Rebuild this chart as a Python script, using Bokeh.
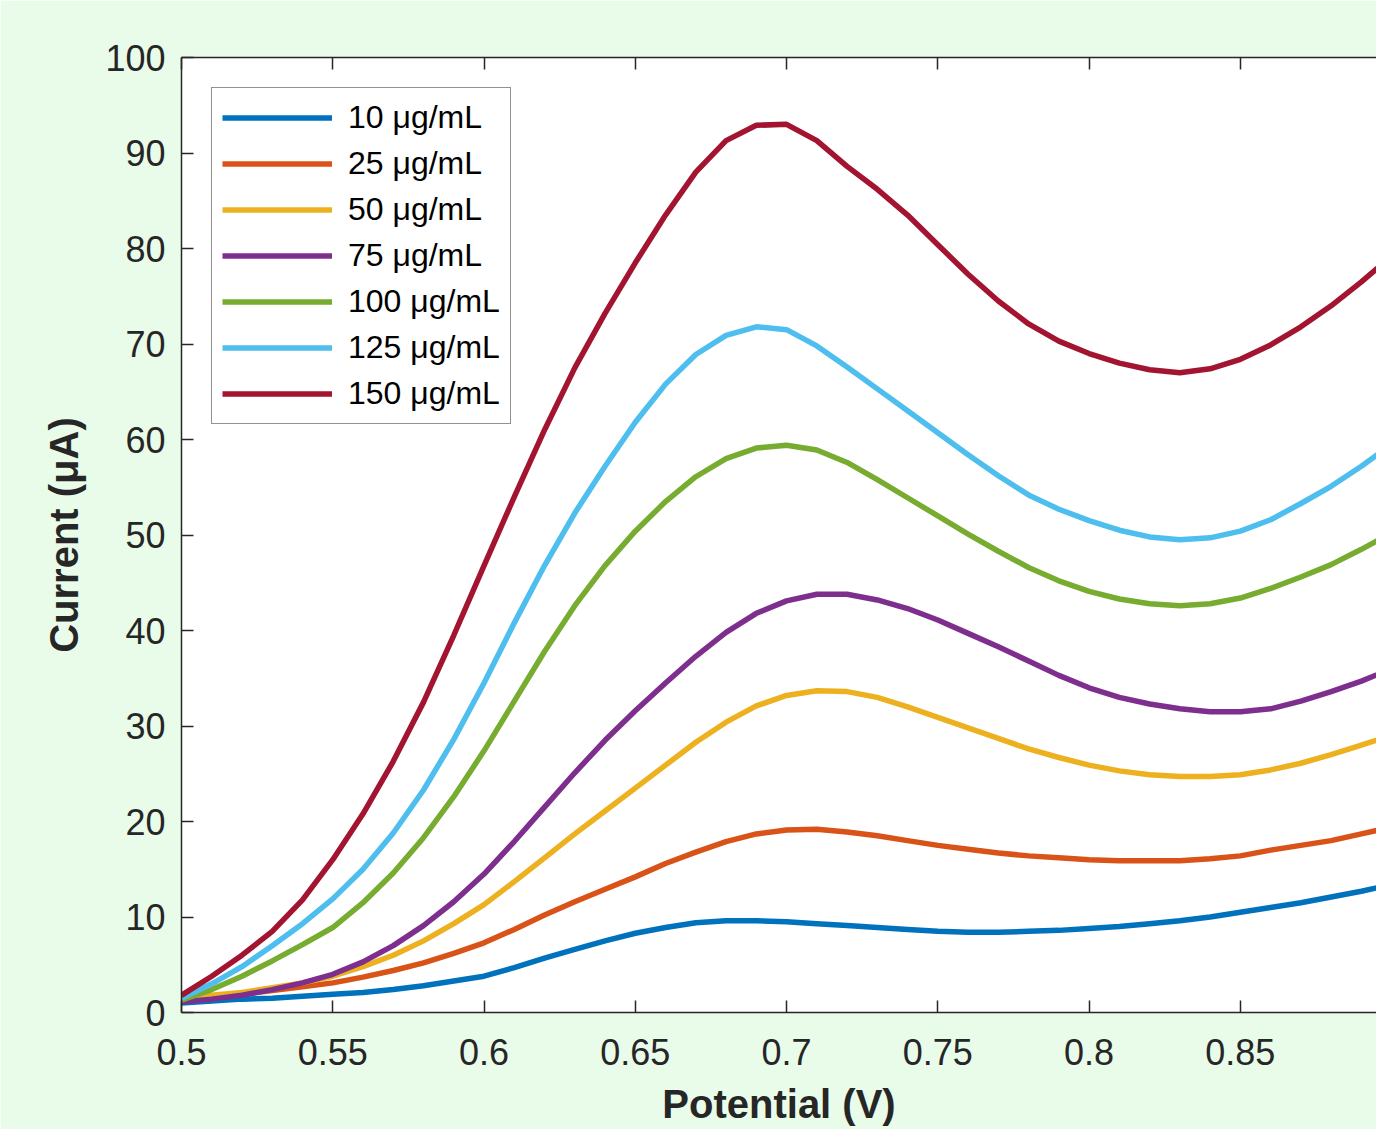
from bokeh.plotting import figure
from bokeh.models import (Range1d, FixedTicker, LinearAxis, Legend, LegendItem,
                          CustomJSTickFormatter)
from bokeh.embed import file_html
from bokeh.resources import INLINE

# ---------------- data ----------------
potential = [0.50, 0.51, 0.52, 0.53, 0.54, 0.55, 0.56, 0.57, 0.58, 0.59,
             0.60, 0.61, 0.62, 0.63, 0.64, 0.65, 0.66, 0.67, 0.68, 0.69,
             0.70, 0.71, 0.72, 0.73, 0.74, 0.75, 0.76, 0.77, 0.78, 0.79,
             0.80, 0.81, 0.82, 0.83, 0.84, 0.85, 0.86, 0.87, 0.88, 0.89, 0.90]

c10 = [1.0, 1.2, 1.4, 1.5, 1.7, 1.9, 2.1, 2.4, 2.8, 3.3,
       3.8, 4.7, 5.7, 6.6, 7.5, 8.3, 8.9, 9.4, 9.6, 9.6,
       9.5, 9.3, 9.1, 8.9, 8.7, 8.5, 8.4, 8.4, 8.5, 8.6,
       8.8, 9.0, 9.3, 9.6, 10.0, 10.5, 11.0, 11.5, 12.1, 12.7, 13.4]

c25 = [1.2, 1.5, 1.9, 2.3, 2.7, 3.1, 3.7, 4.4, 5.2, 6.2,
       7.3, 8.7, 10.2, 11.6, 12.9, 14.2, 15.6, 16.8, 17.9, 18.7,
       19.1, 19.2, 18.9, 18.5, 18.0, 17.5, 17.1, 16.7, 16.4, 16.2,
       16.0, 15.9, 15.9, 15.9, 16.1, 16.4, 17.0, 17.5, 18.0, 18.7, 19.4]

c50 = [1.5, 1.8, 2.1, 2.6, 3.1, 3.8, 4.8, 6.0, 7.5, 9.3,
       11.3, 13.7, 16.2, 18.7, 21.1, 23.5, 25.9, 28.3, 30.4, 32.1,
       33.2, 33.7, 33.6, 33.0, 32.0, 30.9, 29.8, 28.7, 27.6, 26.7,
       25.9, 25.3, 24.9, 24.7, 24.7, 24.9, 25.4, 26.1, 27.0, 28.0, 29.0]

c75 = [1.1, 1.4, 1.8, 2.4, 3.1, 4.0, 5.3, 7.0, 9.1, 11.6,
       14.5, 17.9, 21.5, 25.1, 28.5, 31.6, 34.5, 37.3, 39.8, 41.8,
       43.1, 43.8, 43.8, 43.2, 42.3, 41.1, 39.7, 38.3, 36.8, 35.3,
       34.0, 33.0, 32.3, 31.8, 31.5, 31.5, 31.8, 32.6, 33.6, 34.7, 36.0]

c100 = [1.3, 2.4, 3.8, 5.4, 7.1, 8.9, 11.5, 14.6, 18.3, 22.6,
        27.4, 32.6, 37.8, 42.6, 46.8, 50.4, 53.5, 56.1, 58.0, 59.1,
        59.4, 58.9, 57.6, 55.8, 53.9, 52.0, 50.1, 48.3, 46.6, 45.2,
        44.1, 43.3, 42.8, 42.6, 42.8, 43.4, 44.4, 45.6, 46.9, 48.5, 50.2]

c125 = [1.5, 3.0, 4.8, 7.0, 9.3, 11.9, 15.0, 18.8, 23.3, 28.6,
        34.5, 40.8, 46.8, 52.3, 57.2, 61.8, 65.8, 68.9, 70.9, 71.8,
        71.5, 69.8, 67.6, 65.3, 63.0, 60.7, 58.4, 56.2, 54.2, 52.7,
        51.5, 50.5, 49.8, 49.5, 49.7, 50.4, 51.6, 53.3, 55.1, 57.2, 59.5]

c150 = [1.8, 3.8, 6.0, 8.5, 11.8, 16.0, 20.8, 26.3, 32.5, 39.5,
        46.8, 54.0, 61.0, 67.5, 73.2, 78.5, 83.5, 88.0, 91.3, 92.9,
        93.0, 91.3, 88.6, 86.2, 83.5, 80.4, 77.3, 74.5, 72.1, 70.3,
        69.0, 68.0, 67.3, 67.0, 67.4, 68.4, 69.9, 71.8, 74.0, 76.5, 79.2]

series_labels = ["10 μg/mL", "25 μg/mL", "50 μg/mL", "75 μg/mL",
                 "100 μg/mL", "125 μg/mL", "150 μg/mL"]
series_values = [c10, c25, c50, c75, c100, c125, c150]
series_colors = ["#0072BD", "#D95319", "#EDB120", "#7E2F8E",
                 "#77AC30", "#4DBEEE", "#A2142F"]

x_ticks = [0.5, 0.55, 0.6, 0.65, 0.7, 0.75, 0.8, 0.85, 0.9]
x_tick_labels = ["0.5", "0.55", "0.6", "0.65", "0.7", "0.75", "0.8", "0.85", "0.9"]
y_ticks = [0, 10, 20, 30, 40, 50, 60, 70, 80, 90, 100]

# ---------------- figure ----------------
FONT = "Liberation Sans"
AX = "#262626"
BG = "#E9FBE9"

p = figure(width=1376, height=1129, output_backend="svg", toolbar_location=None,
           x_range=Range1d(0.5, 0.895), y_range=Range1d(0, 100),
           x_axis_label="Potential (V)", y_axis_label="Current (μA)")
p.min_border_left = 181
p.min_border_right = 0
p.min_border_top = 57
p.min_border_bottom = 117
p.background_fill_color = "white"
p.border_fill_color = BG
p.outline_line_color = None
p.xgrid.visible = False
p.ygrid.visible = False

for ax in (p.xaxis[0], p.yaxis[0]):
    ax.axis_line_color = AX
    ax.axis_line_width = 1.5
    ax.major_tick_line_color = AX
    ax.major_tick_line_width = 1.5
    ax.major_tick_in = 12
    ax.major_tick_out = 0
    ax.minor_tick_line_color = None
    ax.major_label_text_font = FONT
    ax.major_label_text_font_size = "36px"
    ax.major_label_text_color = AX
    ax.axis_label_text_font = FONT
    ax.axis_label_text_font_size = "40px"
    ax.axis_label_text_font_style = "bold"
    ax.axis_label_text_color = AX

p.xaxis[0].ticker = FixedTicker(ticks=x_ticks)
p.xaxis[0].major_label_overrides = dict(zip(x_ticks, x_tick_labels))
p.xaxis[0].major_label_standoff = 26
p.xaxis[0].axis_label_standoff = 14
p.yaxis[0].ticker = FixedTicker(ticks=y_ticks)
p.yaxis[0].major_label_standoff = 16
p.yaxis[0].axis_label_standoff = 16

top = LinearAxis(ticker=FixedTicker(ticks=x_ticks), axis_line_color=AX,
                 axis_line_width=1.5, major_tick_line_color=AX,
                 major_tick_line_width=1.5, major_tick_in=12, major_tick_out=0,
                 minor_tick_line_color=None,
                 formatter=CustomJSTickFormatter(code="return '';"),
                 major_label_standoff=0)
p.add_layout(top, "above")

items = []
for lab, vals, col in zip(series_labels, series_values, series_colors):
    r = p.line(potential, vals, line_color=col, line_width=5.5)
    items.append(LegendItem(label=lab, renderers=[r]))

legend = Legend(items=items, location="top_left", margin=30,
                padding=10, spacing=7, glyph_width=110, glyph_height=39,
                label_standoff=16, label_text_font=FONT,
                label_text_font_size="32px", label_text_color="#000000",
                border_line_color=AX, border_line_width=1.5,
                background_fill_color="white", background_fill_alpha=1.0)
p.add_layout(legend)

open("out.html", "w").write(file_html(p, INLINE))
